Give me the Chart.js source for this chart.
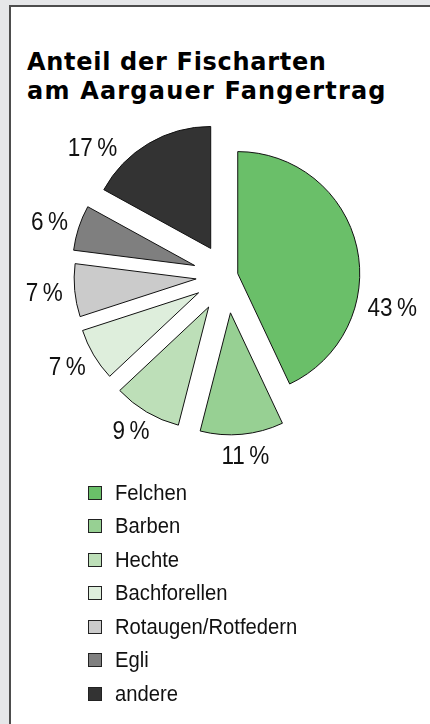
<!DOCTYPE html>
<html>
<head>
<meta charset="utf-8">
<script src="https://cdn.jsdelivr.net/npm/chart.js@4/dist/chart.umd.min.js"></script>
<style>
  html, body { margin: 0; padding: 0; width: 430px; height: 724px; overflow: hidden; background: #e6e7e9; }
  #frame { position: absolute; left: 9px; top: 5px; width: 440px; height: 740px; background: #ffffff;
           border-left: 2px solid #4d4d4d; border-top: 2px solid #4d4d4d; }
  #title { position: absolute; left: 27px; top: 48px; margin: 0; font-family: "DejaVu Sans", sans-serif;
           font-weight: bold; font-size: 24px; line-height: 29px; letter-spacing: 0.7px; color: #000; white-space: nowrap; }
  #title .l2 { letter-spacing: 1.2px; }
  #chart { position: absolute; left: 0; top: 0; }
  #legend { position: absolute; left: 88px; top: 476px; margin: 0; padding: 0; list-style: none;
            font-family: "Liberation Sans", sans-serif; font-size: 22px; color: #111; }
  #legend li { height: 33.5px; display: flex; align-items: center; white-space: nowrap; }
  #legend .box { width: 12px; height: 12px; border: 1.5px solid #222; margin-right: 13px; flex: none; }
  #legend .txt { display: inline-block; transform: scaleX(0.92); transform-origin: left center; }
</style>
</head>
<body>
<div id="frame"></div>
<div id="title">Anteil der Fischarten<br><span class="l2">am Aargauer Fangertrag</span></div>
<canvas id="chart" width="430" height="724"></canvas>
<ul id="legend"></ul>
<script>
// ---- data ----
const categories = ['Felchen', 'Barben', 'Hechte', 'Bachforellen', 'Rotaugen/Rotfedern', 'Egli', 'andere'];
const shares = [43, 11, 9, 7, 7, 6, 17];

// ---- styling / layout ----
const sliceColors = ['#6abf69', '#97d093', '#bddfb8', '#deeedc', '#cbcbcb', '#7f7f7f', '#333333'];
const sliceShift = [11, 37, 36, 33, 31, 34, 32];          // explode distance (px) along slice bisector
const labelAngleShift = [26, 0, 0, 0, 0, 0, -16];          // degrees
const labelExtraRadius = [0, 0, 0, 0, 0, 0, 4];            // px
const labelFontSize = 25;
const labelFont = labelFontSize + 'px "Liberation Sans", sans-serif';
const labelSqueeze = 0.9;

// draw each arc translated outward along its bisector
const explodePlugin = {
  id: 'explode',
  beforeDatasetDraw(chart, args) {
    const ctx = chart.ctx;
    args.meta.data.forEach((arc, i) => {
      const mid = (arc.startAngle + arc.endAngle) / 2;
      const d = sliceShift[i] || 0;
      ctx.save();
      ctx.translate(Math.cos(mid) * d, Math.sin(mid) * d);
      arc.draw(ctx, chart.chartArea);
      ctx.restore();
    });
    return false;
  }
};

// percentage labels outside each slice
const pctLabels = {
  id: 'pctLabels',
  afterDatasetsDraw(chart) {
    const ctx = chart.ctx;
    const meta = chart.getDatasetMeta(0);
    ctx.save();
    ctx.font = labelFont;
    ctx.fillStyle = '#111';
    ctx.textAlign = 'center';
    ctx.textBaseline = 'alphabetic';
    meta.data.forEach((arc, i) => {
      const p = arc.getProps(['x', 'y', 'startAngle', 'endAngle', 'outerRadius'], true);
      const mid = (p.startAngle + p.endAngle) / 2;
      const d = sliceShift[i] || 0;
      const cx = p.x + Math.cos(mid) * d;
      const cy = p.y + Math.sin(mid) * d;
      const a = mid + labelAngleShift[i] * Math.PI / 180;
      const r = p.outerRadius + 12 + labelExtraRadius[i];
      const text = shares[i] + '\u2009%';
      const w = ctx.measureText(text).width * labelSqueeze;
      const h = 18;
      const px = cx + Math.cos(a) * r + Math.cos(a) * w / 2;
      const py = cy + Math.sin(a) * r + Math.sin(a) * h / 2;
      ctx.save();
      ctx.translate(px, py + labelFontSize * 0.358);
      ctx.scale(labelSqueeze, 1);
      ctx.fillText(text, 0, 0);
      ctx.restore();
    });
    ctx.restore();
  }
};

new Chart(document.getElementById('chart'), {
  type: 'pie',
  data: {
    labels: categories,
    datasets: [{
      data: shares,
      backgroundColor: sliceColors,
      borderColor: '#111111',
      borderWidth: 1,
      borderJoinStyle: 'miter'
    }]
  },
  options: {
    responsive: false,
    animation: false,
    devicePixelRatio: 1,
    radius: 122,
    layout: { padding: { left: 27, right: 3, top: 60, bottom: 232 } },
    plugins: {
      legend: { display: false },
      tooltip: { enabled: false },
      title: { display: false }
    },
    events: []
  },
  plugins: [explodePlugin, pctLabels]
});

// legend built from the same arrays
const legendEl = document.getElementById('legend');
categories.forEach((name, i) => {
  const li = document.createElement('li');
  const box = document.createElement('span');
  box.className = 'box';
  box.style.background = sliceColors[i];
  const txt = document.createElement('span');
  txt.className = 'txt';
  txt.textContent = name;
  li.appendChild(box);
  li.appendChild(txt);
  legendEl.appendChild(li);
});
</script>
</body>
</html>
